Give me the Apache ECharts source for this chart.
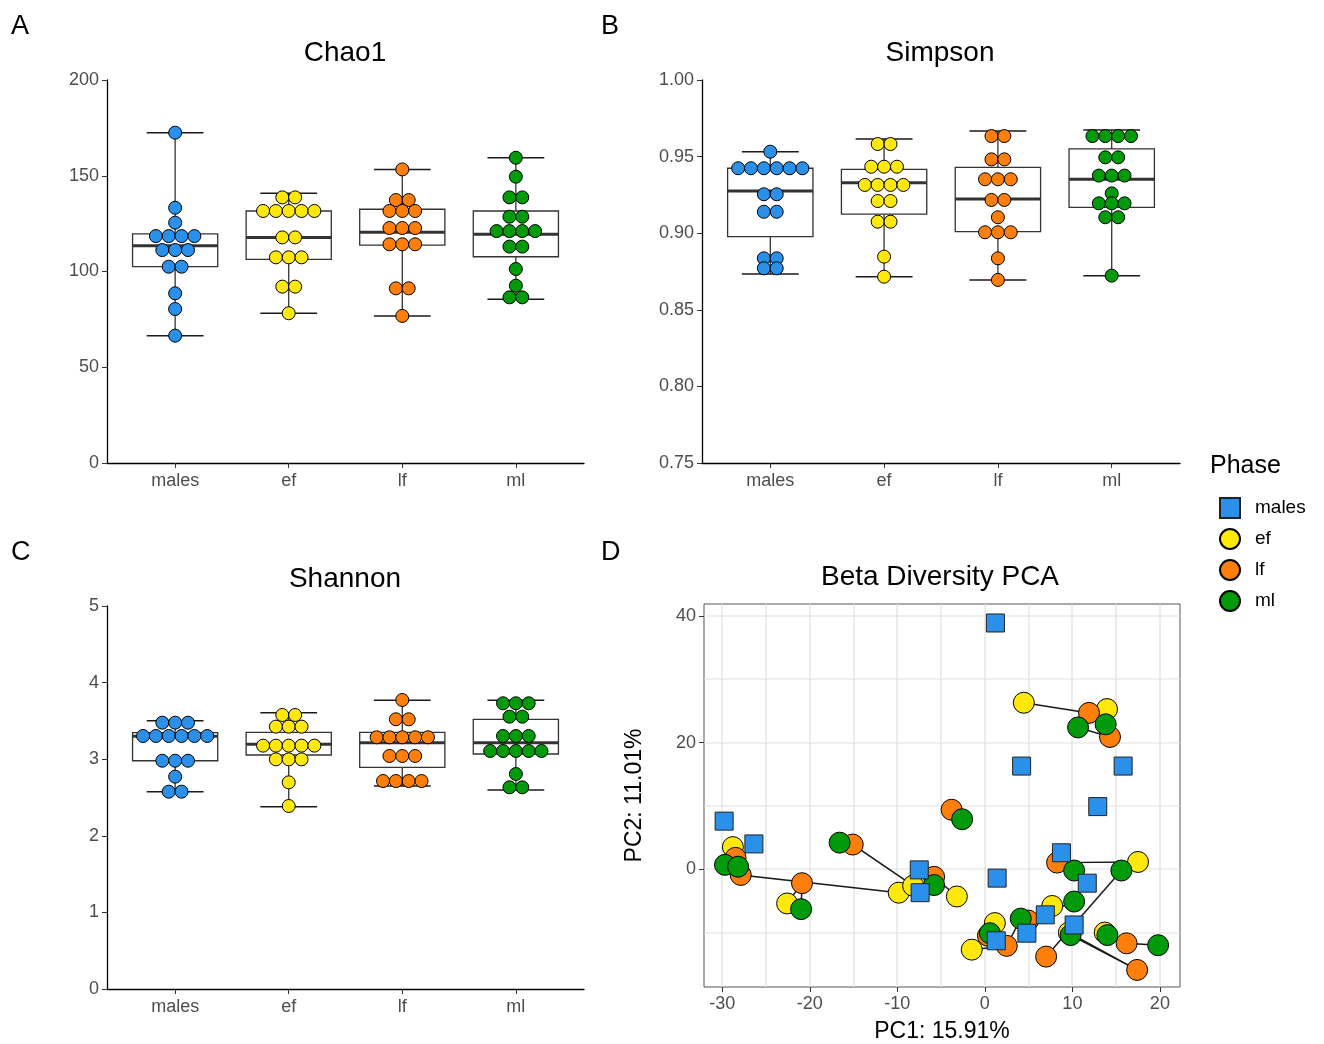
<!DOCTYPE html>
<html>
<head>
<meta charset="utf-8">
<script src="https://cdn.jsdelivr.net/npm/echarts@6.0.0/dist/echarts.min.js"></script>
<style>
html, body { margin: 0; padding: 0; background: #fff; }
#main { width: 1324px; height: 1044px; }
</style>
</head>
<body>
<div id="main"></div>
<script>
// phases and colours
var phases = ['males', 'ef', 'lf', 'ml'];
var phaseColors = ['#2b90ea', '#ffe80a', '#ff7f0a', '#009a0a'];
var FONT = 'Liberation Sans, Arial, sans-serif';

// Chao1 dot values (one entry per sample)
var chaoMales = [172.5, 133.3, 125.5, 118.5, 118.5, 118.5, 118.5, 111.2, 111.2, 111.2, 102.5, 102.5, 88.6, 80.4, 66.5];
var chaoEf = [138.7, 138.7, 131.6, 131.6, 131.6, 131.6, 131.6, 117.8, 117.8, 107.4, 107.4, 107.4, 92.1, 92.1, 78.2];
var chaoLf = [153.3, 137.3, 137.3, 131.6, 131.6, 131.6, 122.7, 122.7, 122.7, 114.2, 114.2, 114.2, 91.2, 91.2, 76.8];
var chaoMl = [159.4, 149.5, 138.7, 138.7, 128.6, 128.6, 121.1, 121.1, 121.1, 121.1, 113.0, 113.0, 101.3, 92.6, 86.5, 86.5];
// box stats: [low whisker, q1, median, q3, high whisker]
var chaoBox = [[66.5, 102.5, 113.5, 119.6, 172.5], [78.2, 106.3, 117.8, 131.6, 140.8],
               [76.8, 113.8, 120.5, 132.5, 153.3], [85.5, 107.7, 119.4, 131.6, 159.4]];

// Simpson
var simMales = [0.9532, 0.9424, 0.9424, 0.9424, 0.9424, 0.9424, 0.9424, 0.9254, 0.9254, 0.9140, 0.9140, 0.8836, 0.8836, 0.8771, 0.8771];
var simEf = [0.9582, 0.9582, 0.9434, 0.9434, 0.9434, 0.9315, 0.9315, 0.9315, 0.9315, 0.9210, 0.9210, 0.9075, 0.9075, 0.8847, 0.8716];
var simLf = [0.9634, 0.9634, 0.9482, 0.9482, 0.9352, 0.9352, 0.9352, 0.9217, 0.9217, 0.9104, 0.9006, 0.9006, 0.9006, 0.8836, 0.8695];
var simMl = [0.9634, 0.9634, 0.9634, 0.9634, 0.9495, 0.9495, 0.9376, 0.9376, 0.9376, 0.9260, 0.9195, 0.9195, 0.9195, 0.9104, 0.9104, 0.8723];
var simBox = [[0.8734, 0.8977, 0.9275, 0.9424, 0.9532], [0.8716, 0.9125, 0.9330, 0.9417, 0.9615],
              [0.8695, 0.9010, 0.9223, 0.9430, 0.9667], [0.8723, 0.9169, 0.9352, 0.9550, 0.9674]];

// Shannon
var shaMales = [3.477, 3.477, 3.477, 3.303, 3.303, 3.303, 3.303, 3.303, 3.303, 2.980, 2.980, 2.980, 2.772, 2.576, 2.576];
var shaEf = [3.577, 3.577, 3.425, 3.425, 3.425, 3.177, 3.177, 3.177, 3.177, 3.177, 2.998, 2.998, 2.998, 2.698, 2.389];
var shaLf = [3.773, 3.521, 3.521, 3.286, 3.286, 3.286, 3.286, 3.286, 3.042, 3.042, 3.042, 2.715, 2.715, 2.715, 2.715];
var shaMl = [3.730, 3.730, 3.730, 3.555, 3.555, 3.303, 3.303, 3.303, 3.107, 3.107, 3.107, 3.107, 3.107, 2.807, 2.633, 2.633];
var shaBox = [[2.576, 2.980, 3.300, 3.346, 3.503], [2.380, 3.055, 3.194, 3.351, 3.607],
              [2.650, 2.894, 3.216, 3.351, 3.770], [2.598, 3.068, 3.216, 3.521, 3.770]];

// PCA: males (squares)
var pcaMales = [[1.2, 38.9], [4.2, 16.3], [15.8, 16.3], [-29.8, 7.6], [-26.4, 4.0], [-7.5, -0.1], [-7.4, -3.7], [1.4, -1.4],
                [12.9, 9.9], [8.75, 2.6], [11.7, -2.2], [6.9, -7.2], [1.3, -11.3], [4.8, -10.1], [10.2, -8.8]];
// PCA: females, one row per individual: [ef, lf, ml]
var pcaFemales = [
  [[4.45, 26.3], [11.9, 24.7], [13.8, 22.9]],
  [[13.96, 25.3], [14.3, 20.9], [10.65, 22.4]],
  [[-28.8, 3.5], [-28.5, 1.8], [-29.7, 0.7]],
  [[-9.85, -3.7], [-27.9, -0.9], [-28.2, 0.4]],
  [[-22.6, -5.4], [-20.9, -2.2], [-21.0, -6.3]],
  [[-8.2, -2.6], [-15.1, 3.9], [-16.6, 4.2]],
  [[-3.2, -4.3], [-5.8, -1.2], [-5.8, -2.5]],
  [null, [-3.8, 9.4], [-2.6, 7.9]],
  [[17.5, 1.15], [8.25, 1.05], [10.2, -0.2]],
  [[7.7, -5.8], [4.95, -8.1], [10.2, -5.1]],
  [[1.14, -8.5], [0.35, -10.5], [0.57, -10.1]],
  [[-1.5, -12.7], [2.5, -12.1], [4.1, -7.8]],
  [[9.6, -10.0], [17.4, -15.9], [9.8, -10.4]],
  [[13.7, -10.0], [16.2, -11.7], [19.8, -12.0]],
  [null, [7.0, -13.8], [15.6, -0.2]],
  [null, null, [14.0, -10.4]]
];
var pcaXTicks = [-30, -20, -10, 0, 10, 20];
var pcaYTicks = [0, 20, 40];
var pcaXGrid = [-30, -25, -20, -15, -10, -5, 0, 5, 10, 15, 20];
var pcaYGrid = [-10, 0, 10, 20, 30, 40];

var DOT = 0.113; // dot width in category units

function stackDots(vals, xc, color) {
  var counts = {}, seen = {};
  vals.forEach(function (v) { counts[v] = (counts[v] || 0) + 1; });
  return vals.map(function (v) {
    var n = counts[v], i = seen[v] || 0;
    seen[v] = i + 1;
    return { value: [xc + (i - (n - 1) / 2) * DOT, v], itemStyle: { color: color } };
  });
}

function renderBox(params, api) {
  var x = api.value(0);
  var pLo = api.coord([x, api.value(1)]), pQ1 = api.coord([x, api.value(2)]);
  var pMed = api.coord([x, api.value(3)]), pQ3 = api.coord([x, api.value(4)]);
  var pHi = api.coord([x, api.value(5)]);
  var bw = api.size([0.75, 0])[0], cw = api.size([0.5, 0])[0];
  var st = { stroke: '#333', lineWidth: 1.3, fill: null };
  var cap = { stroke: '#1a1a1a', lineWidth: 1.5, fill: null };
  return {
    type: 'group',
    children: [
      { type: 'line', shape: { x1: pLo[0], y1: pLo[1], x2: pHi[0], y2: pHi[1] }, style: st },
      { type: 'line', shape: { x1: pLo[0] - cw / 2, y1: pLo[1], x2: pLo[0] + cw / 2, y2: pLo[1] }, style: cap },
      { type: 'line', shape: { x1: pHi[0] - cw / 2, y1: pHi[1], x2: pHi[0] + cw / 2, y2: pHi[1] }, style: cap },
      { type: 'rect', shape: { x: pQ3[0] - bw / 2, y: pQ3[1], width: bw, height: pQ1[1] - pQ3[1] },
        style: { fill: '#fff', stroke: '#333', lineWidth: 1.3 } },
      { type: 'line', shape: { x1: pMed[0] - bw / 2, y1: pMed[1], x2: pMed[0] + bw / 2, y2: pMed[1] },
        style: { stroke: '#333', lineWidth: 3 } }
    ]
  };
}

var panels = [
  { title: 'Chao1', tx: 345, grid: { left: 107, top: 80, width: 477, height: 383 }, min: 0, max: 200, interval: 50, dec: 0,
    dots: [chaoMales, chaoEf, chaoLf, chaoMl], box: chaoBox },
  { title: 'Simpson', tx: 940, grid: { left: 702, top: 80, width: 478, height: 383 }, min: 0.75, max: 1.0, interval: 0.05, dec: 2,
    dots: [simMales, simEf, simLf, simMl], box: simBox },
  { title: 'Shannon', tx: 345, grid: { left: 107, top: 606, width: 477, height: 383 }, min: 0, max: 5, interval: 1, dec: 0,
    dots: [shaMales, shaEf, shaLf, shaMl], box: shaBox }
];

var grids = [], xAxes = [], yAxes = [], series = [], titles = [];
var labelStyle = { fontSize: 18, color: '#4d4d4d', fontFamily: FONT };

panels.forEach(function (p, i) {
  grids.push(p.grid);
  titles.push({ text: p.title, left: p.tx, top: p.grid.top - 41, textAlign: 'center', padding: 0,
    textStyle: { fontSize: 28, fontWeight: 'normal', color: '#000', fontFamily: FONT } });
  xAxes.push({
    gridIndex: i, type: 'value', min: 0.4, max: 4.6,
    axisLine: { show: true, onZero: false, lineStyle: { color: '#000', width: 1.3 } },
    axisTick: { show: true, customValues: [1, 2, 3, 4], length: 5, lineStyle: { color: '#333' } },
    axisLabel: Object.assign({ customValues: [1, 2, 3, 4], margin: 9, formatter: function (v) { return phases[Math.round(v) - 1]; } }, labelStyle),
    splitLine: { show: false }
  });
  yAxes.push({
    gridIndex: i, type: 'value', min: p.min, max: p.max, interval: p.interval,
    axisLine: { show: true, onZero: false, lineStyle: { color: '#000', width: 1.3 } },
    axisTick: { show: true, length: 5, lineStyle: { color: '#333' } },
    axisLabel: Object.assign({ margin: 8, formatter: function (v) { return v.toFixed(p.dec); } }, labelStyle),
    splitLine: { show: false }
  });
  series.push({
    type: 'custom', xAxisIndex: i, yAxisIndex: i, renderItem: renderBox, z: 2, silent: true,
    encode: { x: 0, y: [1, 2, 3, 4, 5] },
    data: p.box.map(function (b, k) { return [k + 1].concat(b); })
  });
  var dotData = [];
  p.dots.forEach(function (vals, k) { dotData = dotData.concat(stackDots(vals, k + 1, phaseColors[k])); });
  series.push({
    type: 'scatter', name: p.title + ' dots', xAxisIndex: i, yAxisIndex: i, z: 3,
    symbol: 'circle', symbolSize: 13,
    itemStyle: { borderColor: '#000', borderWidth: 1, opacity: 1 },
    data: dotData
  });
});

// panel D
grids.push({ left: 704, top: 604, width: 476, height: 384, show: true, borderColor: '#555', borderWidth: 1, backgroundColor: '#fff' });
titles.push({ text: 'Beta Diversity PCA', left: 940, top: 563, textAlign: 'center', padding: 0,
  textStyle: { fontSize: 28, fontWeight: 'normal', color: '#000', fontFamily: FONT } });
xAxes.push({
  gridIndex: 3, type: 'value', min: -32.1, max: 22.3,
  name: 'PC1: 15.91%', nameLocation: 'middle', nameGap: 33,
  nameTextStyle: { fontSize: 23, color: '#000', fontFamily: FONT },
  axisLine: { show: false, onZero: false },
  axisTick: { show: true, customValues: pcaXTicks, length: 5, lineStyle: { color: '#333' } },
  axisLabel: Object.assign({ customValues: pcaXTicks, margin: 8 }, labelStyle),
  splitLine: { show: false }
});
yAxes.push({
  gridIndex: 3, type: 'value', min: -18.6, max: 41.9,
  name: 'PC2: 11.01%', nameLocation: 'middle', nameGap: 58, nameRotate: 90,
  nameTextStyle: { fontSize: 23, color: '#000', fontFamily: FONT },
  axisLine: { show: false, onZero: false },
  axisTick: { show: true, customValues: pcaYTicks, length: 5, lineStyle: { color: '#333' } },
  axisLabel: Object.assign({ customValues: pcaYTicks, margin: 8 }, labelStyle),
  splitLine: { show: false }
});

// grid lines of panel D, drawn in one item from the break lists
series.push({
  type: 'custom', xAxisIndex: 3, yAxisIndex: 3, z: 1, silent: true, clip: false,
  encode: { x: 0, y: 1 },
  data: [[0, 0]],
  renderItem: function (params, api) {
    var cs = params.coordSys, kids = [];
    var style = { stroke: '#e0e0e0', lineWidth: 1.2 };
    pcaXGrid.forEach(function (v) {
      var px = Math.round(api.coord([v, 0])[0]);
      kids.push({ type: 'line', shape: { x1: px, y1: cs.y, x2: px, y2: cs.y + cs.height }, style: style });
    });
    pcaYGrid.forEach(function (v) {
      var py = Math.round(api.coord([0, v])[1]);
      kids.push({ type: 'line', shape: { x1: cs.x, y1: py, x2: cs.x + cs.width, y2: py }, style: style });
    });
    return { type: 'group', children: kids };
  }
});

series.push({
  type: 'lines', coordinateSystem: 'cartesian2d', xAxisIndex: 3, yAxisIndex: 3, polyline: true, z: 2, silent: true,
  lineStyle: { color: '#1a1a1a', width: 1.5, opacity: 1 },
  data: pcaFemales.map(function (ind) {
    return { coords: ind.filter(function (c) { return c; }) };
  }).filter(function (d) { return d.coords.length > 1; })
});

[1, 2, 3].forEach(function (k) {
  series.push({
    type: 'scatter', name: phases[k], xAxisIndex: 3, yAxisIndex: 3, z: 3,
    symbol: 'circle', symbolSize: 21,
    itemStyle: { color: phaseColors[k], borderColor: '#000', borderWidth: 1, opacity: 1 },
    data: pcaFemales.map(function (ind) { return ind[k - 1]; }).filter(function (c) { return c; })
  });
});
series.push({
  type: 'scatter', name: 'males', xAxisIndex: 3, yAxisIndex: 3, z: 4,
  symbol: 'rect', symbolSize: 18,
  itemStyle: { color: phaseColors[0], borderColor: '#222', borderWidth: 1, opacity: 1 },
  data: pcaMales
});

// panel letters
[['A', 6, 8], ['B', 596, 8], ['C', 6, 534], ['D', 596, 534]].forEach(function (l) {
  titles.push({ text: l[0], left: l[1], top: l[2],
    textStyle: { fontSize: 27, fontWeight: 'normal', color: '#000', fontFamily: FONT } });
});

var chart = echarts.init(document.getElementById('main'));
chart.setOption({
  animation: false,
  backgroundColor: '#fff',
  title: titles,
  grid: grids,
  xAxis: xAxes,
  yAxis: yAxes,
  legend: {
    orient: 'vertical', left: 1214, top: 492, itemWidth: 20, itemHeight: 20, itemGap: 9,
    selectedMode: false,
    textStyle: { fontSize: 19, color: '#000', fontFamily: FONT, padding: [0, 0, 0, 10] },
    data: [
      { name: 'males', icon: 'rect' },
      { name: 'ef', icon: 'circle' },
      { name: 'lf', icon: 'circle' },
      { name: 'ml', icon: 'circle' }
    ]
  },
  graphic: [{
    type: 'text', left: 1210, top: 454,
    style: { text: 'Phase', fontSize: 25, fill: '#000', fontFamily: FONT }
  }],
  series: series
});
</script>
</body>
</html>
